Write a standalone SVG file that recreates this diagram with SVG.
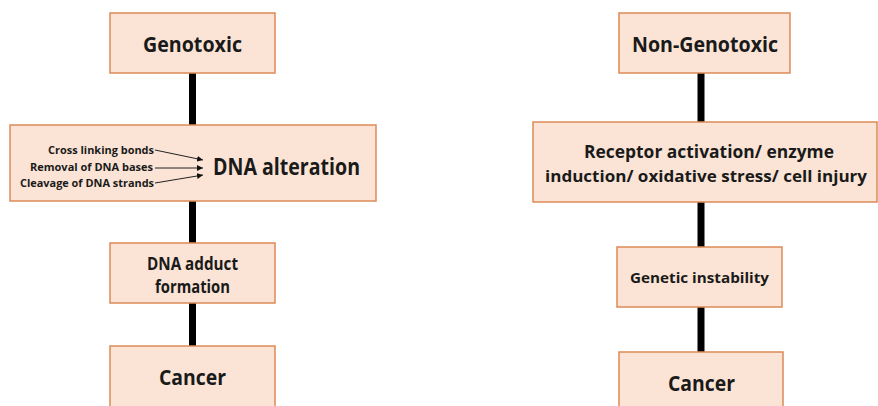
<svg xmlns="http://www.w3.org/2000/svg" width="878" height="406" viewBox="0 0 878 406">
<defs>
<style>
.box{fill:#FBE4D5;stroke:#DD8A57;stroke-width:1.5}
.t{font-family:"Open Sans","Liberation Sans",sans-serif;font-weight:700;fill:#1a1a1a;text-anchor:middle}
.s{font-family:"Open Sans","Liberation Sans",sans-serif;font-weight:700;fill:#1a1a1a;text-anchor:end;font-size:11px}
.c{stroke:#000;stroke-width:7;fill:none}
.a{stroke:#222;stroke-width:1;fill:none;marker-end:url(#ah)}
</style>
<marker id="ah" viewBox="0 0 10 10" refX="10" refY="5" markerWidth="6" markerHeight="6" markerUnits="userSpaceOnUse" orient="auto">
<path d="M0,0 L10,5 L0,10 z" fill="#111"/>
</marker>
</defs>
<rect width="878" height="406" fill="#fff"/>
<g id="connectors">
<line class="c" x1="192.5" y1="73" x2="192.5" y2="125"/>
<line class="c" x1="192.5" y1="201" x2="192.5" y2="243"/>
<line class="c" x1="192.5" y1="303" x2="192.5" y2="346"/>
<line class="c" x1="701" y1="73" x2="701" y2="122"/>
<line class="c" x1="701" y1="202" x2="701" y2="247"/>
<line class="c" x1="701" y1="307" x2="701" y2="352"/>
</g>
<g id="genotoxic">
<rect class="box" x="110" y="13" width="165" height="60"/>
<text class="t" x="192.5" y="52" font-size="22" textLength="99" lengthAdjust="spacingAndGlyphs">Genotoxic</text>
</g>
<g id="dna-alteration">
<rect class="box" x="10" y="125" width="366" height="76"/>
<text class="s" x="154" y="154" textLength="106" lengthAdjust="spacingAndGlyphs">Cross linking bonds</text>
<text class="s" x="153" y="171" textLength="123" lengthAdjust="spacingAndGlyphs">Removal of DNA bases</text>
<text class="s" x="154" y="187" textLength="134" lengthAdjust="spacingAndGlyphs">Cleavage of DNA strands</text>
<path class="a" d="M155,150 L203,160"/>
<path class="a" d="M155,168 L203,168"/>
<path class="a" d="M155,183 L203,175"/>
<text class="t" x="286.5" y="175" font-size="23" textLength="147" lengthAdjust="spacingAndGlyphs">DNA alteration</text>
</g>
<g id="dna-adduct">
<rect class="box" x="110" y="243" width="165" height="60"/>
<text class="t" x="192.5" y="270" font-size="17" textLength="91" lengthAdjust="spacingAndGlyphs">DNA adduct</text>
<text class="t" x="192.5" y="293" font-size="17" textLength="75" lengthAdjust="spacingAndGlyphs">formation</text>
</g>
<g id="cancer-left">
<rect class="box" x="110" y="346" width="165" height="70"/>
<text class="t" x="192.5" y="385" font-size="22" textLength="67" lengthAdjust="spacingAndGlyphs">Cancer</text>
</g>
<g id="non-genotoxic">
<rect class="box" x="619" y="13" width="171" height="60"/>
<text class="t" x="705" y="52" font-size="22" textLength="146" lengthAdjust="spacingAndGlyphs">Non-Genotoxic</text>
</g>
<g id="receptor">
<rect class="box" x="533" y="122" width="344" height="80"/>
<text class="t" x="709" y="158" font-size="17" textLength="250" lengthAdjust="spacingAndGlyphs">Receptor activation/ enzyme</text>
<text class="t" x="706" y="182" font-size="16" textLength="322" lengthAdjust="spacingAndGlyphs">induction/ oxidative stress/ cell injury</text>
</g>
<g id="genetic-instability">
<rect class="box" x="617" y="247" width="165" height="60"/>
<text class="t" x="699.5" y="283" font-size="15" textLength="139" lengthAdjust="spacingAndGlyphs">Genetic instability</text>
</g>
<g id="cancer-right">
<rect class="box" x="619" y="352" width="164" height="64"/>
<text class="t" x="701.5" y="391" font-size="22" textLength="67" lengthAdjust="spacingAndGlyphs">Cancer</text>
</g>
</svg>
